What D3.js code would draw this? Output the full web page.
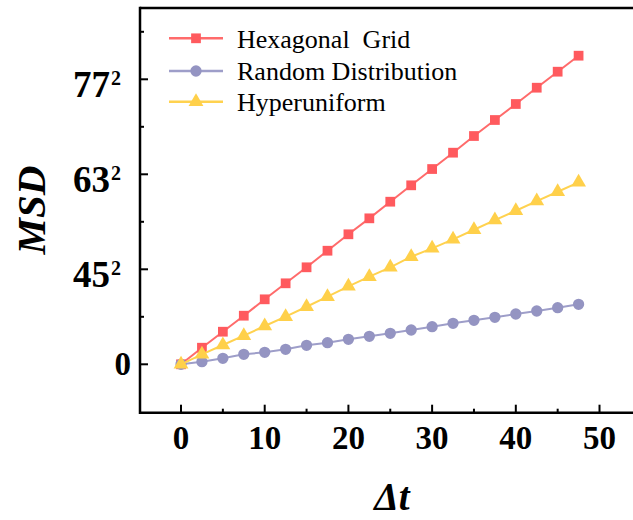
<!DOCTYPE html>
<html>
<head>
<meta charset="utf-8">
<script src="https://cdn.jsdelivr.net/npm/d3@7"></script>
<style>
  body { margin: 0; background: #fff; }
  svg { display: block; font-family: "Liberation Serif", "Times New Roman", serif; }
</style>
</head>
<body>
<div></div>
<script>
// time lags
var lags = [0, 2.5, 5, 7.5, 10, 12.5, 15, 17.5, 20, 22.5, 25, 27.5, 30, 32.5, 35, 37.5, 40, 42.5, 45, 47.5];

// MSD values
var hexagonal = [0, 349, 686, 1023, 1368, 1705, 2042, 2391, 2737, 3073, 3423, 3768, 4111, 4455, 4806, 5143, 5480, 5823, 6160, 6497];
var randomDist = [0, 55, 126, 210, 253, 316, 400, 455, 526, 589, 653, 722, 792, 863, 926, 989, 1059, 1122, 1192, 1263];
var hyperuniform = [0, 210, 406, 602, 806, 1002, 1212, 1423, 1642, 1844, 2042, 2265, 2442, 2631, 2833, 3037, 3233, 3437, 3633, 3831];

var seriesNames = ["Hexagonal  Grid", "Random Distribution", "Hyperuniform"];

var xTicks = [0, 10, 20, 30, 40, 50];
var xMinor = [5, 15, 25, 35, 45];
var yTicks = [0, 2000, 4000, 6000];
var yTickBase = ["0", "45", "63", "77"];
var yMinor = [1000, 3000, 5000, 7000];

var W = 633, H = 520;
var plotLeft = 140, plotTop = 8, plotBottom = 412.7;

var svg = d3.select("div").append("svg").attr("width", W).attr("height", H);

var x = d3.scaleLinear().domain([-4.9, 55]).range([plotLeft, plotLeft + 59.9 * 8.37]);
var y = d3.scaleLinear().domain([-1019, 7501]).range([plotBottom, plotTop]);

var series = [
  { name: seriesNames[0], values: hexagonal, line: "#ff6b6b", fill: "#ff5a5e", shape: d3.symbolSquare, size: 95 },
  { name: seriesNames[1], values: randomDist, line: "#9e9ec9", fill: "#9494c2", shape: d3.symbolCircle, size: 100 },
  { name: seriesNames[2], values: hyperuniform, line: "#ffd24f", fill: "#ffd04a", shape: d3.symbolTriangle, size: 95 }
];

// frame
svg.append("line").attr("x1", plotLeft).attr("x2", plotLeft).attr("y1", plotTop - 1.2).attr("y2", plotBottom + 1.2)
  .attr("stroke", "#000").attr("stroke-width", 2.5);
svg.append("line").attr("x1", plotLeft).attr("x2", W).attr("y1", plotTop).attr("y2", plotTop)
  .attr("stroke", "#000").attr("stroke-width", 2.5);
svg.append("line").attr("x1", plotLeft).attr("x2", W).attr("y1", plotBottom).attr("y2", plotBottom)
  .attr("stroke", "#000").attr("stroke-width", 2.5);

// x ticks (inward)
svg.selectAll(".xt").data(xTicks).enter().append("line")
  .attr("x1", d => x(d)).attr("x2", d => x(d)).attr("y1", plotBottom).attr("y2", plotBottom - 8)
  .attr("stroke", "#000").attr("stroke-width", 2);
svg.selectAll(".xm").data(xMinor).enter().append("line")
  .attr("x1", d => x(d)).attr("x2", d => x(d)).attr("y1", plotBottom).attr("y2", plotBottom - 4)
  .attr("stroke", "#000").attr("stroke-width", 2);
svg.selectAll(".xl").data(xTicks).enter().append("text")
  .attr("x", d => x(d)).attr("y", 448.5)
  .attr("text-anchor", "middle").attr("font-size", 33).attr("font-weight", "bold")
  .text(d => d);

// y ticks (inward)
svg.selectAll(".yt").data(yTicks).enter().append("line")
  .attr("x1", plotLeft).attr("x2", plotLeft + 8).attr("y1", d => y(d)).attr("y2", d => y(d))
  .attr("stroke", "#000").attr("stroke-width", 2);
svg.selectAll(".ym").data(yMinor).enter().append("line")
  .attr("x1", plotLeft).attr("x2", plotLeft + 4).attr("y1", d => y(d)).attr("y2", d => y(d))
  .attr("stroke", "#000").attr("stroke-width", 2);

yTicks.forEach(function(v, i) {
  if (i === 0) {
    svg.append("text").attr("font-weight", "bold").attr("text-anchor", "end")
      .attr("x", 131).attr("y", y(v) + 11).attr("font-size", 33).text(yTickBase[i]);
  } else {
    // base digits, then a separate superscript "2"
    svg.append("text").attr("font-weight", "bold").attr("text-anchor", "end")
      .attr("x", 110).attr("y", y(v) + 17.5).attr("font-size", 37).text(yTickBase[i]);
    svg.append("text").attr("font-weight", "bold").attr("text-anchor", "start")
      .attr("x", 111).attr("y", y(v) + 5.5).attr("font-size", 20).text("2");
  }
});

// axis titles
svg.append("text")
  .attr("transform", "translate(45,210) rotate(-90)")
  .attr("text-anchor", "middle").attr("font-size", 41)
  .attr("font-weight", "bold").attr("font-style", "italic")
  .text("MSD");
svg.append("text")
  .attr("x", 392).attr("y", 510)
  .attr("text-anchor", "middle").attr("font-size", 39)
  .attr("font-weight", "bold").attr("font-style", "italic")
  .text("\u0394t");

// series
var line = d3.line().x((d, i) => x(lags[i])).y(d => y(d));

series.forEach(function(s) {
  svg.append("path").datum(s.values)
    .attr("d", line)
    .attr("fill", "none").attr("stroke", s.line).attr("stroke-width", 2);
  svg.selectAll(null).data(s.values).enter().append("path")
    .attr("d", d3.symbol().type(s.shape).size(s.size))
    .attr("transform", (d, i) => "translate(" + x(lags[i]) + "," + y(d) + ")")
    .attr("fill", s.fill);
});

// legend
var legY = [38.3, 71, 101.7];
series.forEach(function(s, i) {
  var g = svg.append("g").attr("transform", "translate(0," + legY[i] + ")");
  g.append("line").attr("x1", 169).attr("x2", 223).attr("y1", 0).attr("y2", 0)
    .attr("stroke", s.line).attr("stroke-width", 2.5);
  g.append("path").attr("d", d3.symbol().type(s.shape).size(s.size))
    .attr("transform", "translate(196,0)").attr("fill", s.fill);
  g.append("text").attr("x", 237).attr("y", 9.2)
    .attr("font-size", 26).style("white-space", "pre")
    .text(s.name);
});
</script>
</body>
</html>
